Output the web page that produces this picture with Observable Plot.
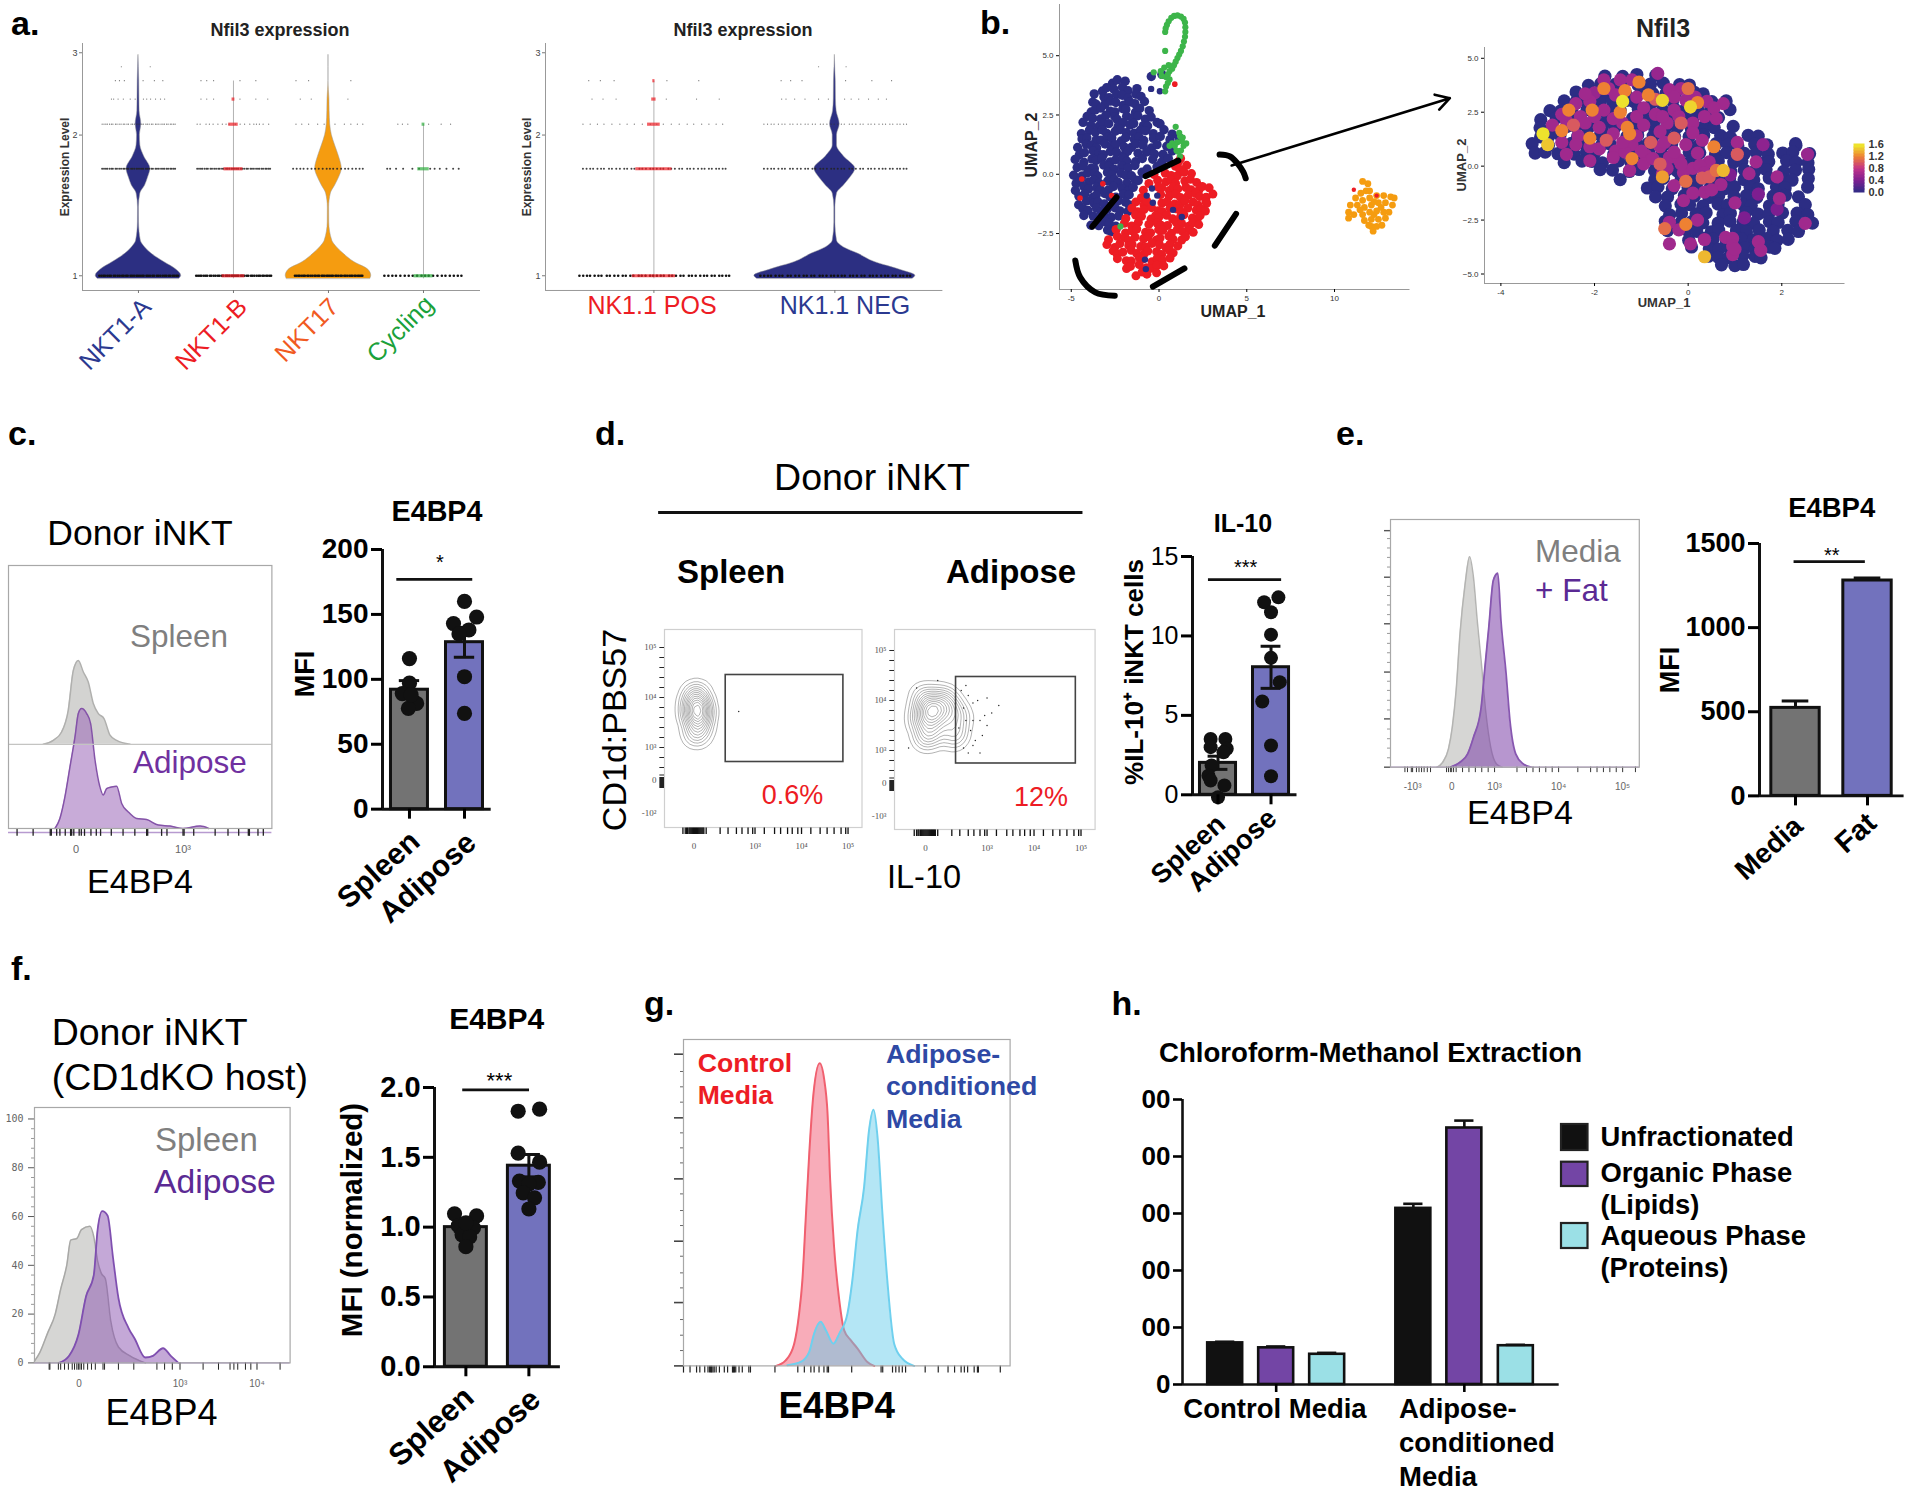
<!DOCTYPE html>
<html><head><meta charset="utf-8">
<script src="https://cdn.jsdelivr.net/npm/d3@7"></script>
<script src="https://cdn.jsdelivr.net/npm/@observablehq/plot@0.6"></script>
<style>html,body{margin:0;background:#fff}#fig{position:relative;width:1920px;height:1497px;overflow:hidden;font-family:"Liberation Sans",Arial,sans-serif}</style>
</head><body><div id="fig"></div>
<script>
// ---------- a. violins ----------
const violinLevels=[.985,1,1.03,1.07,1.114,1.15,1.188,1.3,1.4,1.5,1.56,1.62,1.694,1.8,1.9,2.0,2.11,2.25,2.39,2.61,2.8,2.97];
const nkt1aWidth=[.43,.45,.40,.27,.14,.07,.025,.006,.005,.02,.07,.10,.125,.06,.02,.015,.03,.012,.01,.008,.004,0];
const nkt17Width=[.44,.45,.42,.27,.16,.09,.04,.008,.007,.025,.07,.11,.14,.11,.07,.035,.018,.012,.01,0,0,0];
const nk11NegWidth=[.43,.445,.36,.22,.13,.05,.012,.003,.003,.012,.05,.085,.113,.05,.012,.012,.027,.01,.006,.005,.002,0];
const clusterNames=["NKT1-A","NKT1-B","NKT17","Cycling"];
const clusterColors=["#2b3990","#ed1c24","#f15a22","#1aa13a"];
const nk11Names=["NK1.1 POS","NK1.1 NEG"];
const jitterDense=[-.98,-.93,-.88,-.84,-.78,-.73,-.69,-.62,-.58,-.52,-.47,-.41,-.37,-.31,-.27,-.2,-.16,-.11,-.05,-.01,.04,.09,.13,.2,.24,.29,.35,.39,.46,.5,.55,.61,.66,.7,.76,.8,.86,.9,.95,.99];
const jitterSparse=[-.9,.62,-.55,.18,-.74,.95,-.3,.44,-.12,.8,-.98,.3,-.42,.7,.05,-.65,.55,-.2,.88,-.82,.12,.38,-.5,.75,-.05,.98,-.35,.24];
const rowsA1=[[0,1,.42,40],[0,1.694,.39,40],[0,2.11,.39,28],[0,2.388,.29,12],[0,2.614,.27,6],[0,2.8,.2,2],
 [1,1,.4,40],[1,1.694,.39,30],[1,2.11,.39,18],[1,2.388,.38,6],[1,2.614,.38,5],
 [2,1,.36,30],[2,1.694,.38,22],[2,2.11,.38,10],[2,2.388,.33,3],[2,2.614,.38,3],
 [3,1,.42,24],[3,1.694,.39,12],[3,2.11,.3,6]];
const rowsA2=[[0,1,.42,40],[0,1.694,.4,40],[0,2.11,.4,22],[0,2.388,.38,6],[0,2.614,.4,5],
 [1,1,.42,40],[1,1.694,.4,40],[1,2.11,.4,28],[1,2.388,.3,12],[1,2.614,.33,6],[1,2.8,.1,2]];
const coresA1=[[1,1,"#ed1c24",.12],[1,1.694,"#ed1c24",.1],[1,2.11,"#ed1c24",.05],[1,2.388,"#ed1c24",.015],[3,1,"#2fae3f",.1],[3,1.694,"#2fae3f",.06],[3,2.11,"#2fae3f",.015]];
const coresA2=[[0,1,"#ed1c24",.12],[0,1.694,"#ed1c24",.1],[0,2.11,"#ed1c24",.035],[0,2.388,"#ed1c24",.012],[0,2.614,"#ed1c24",.006]];
// ---------- b. UMAP (rows: y, then x positions) ----------
const wiggleX=[.07,-.11,.03,.12,-.05,-.09,.1,-.02,.06,-.13,.09,-.07,.13,.01,-.1,.05,-.04,.11,-.12,.08,-.01,-.08,.04];
const wiggleY=[-.09,.12,.04,-.13,.07,-.03,.1,-.11,.02,.13,-.06,-.1,.09,.05,-.12,.11,-.02,.06,-.07];
const blueRows=[[3.9,-2.7,-2.3,-1.95],[3.6,-3.3,-2.95,-2.5,-2.15,-1.75,-1.3],[3.3,-3.6,-3.2,-2.8,-2.5,-2.1,-1.7,-1.35,-1],[3,-3.85,-3.5,-3.15,-2.75,-2.4,-2.05,-1.7,-1.3,-.85],[2.7,-3.95,-3.6,-3.25,-2.85,-2.5,-2.1,-1.8,-1.4,-1.05,-.65],[2.4,-4.1,-3.7,-3.35,-3,-2.6,-2.3,-1.9,-1.5,-1.15,-.8,-.5],[2.1,-4.25,-3.9,-3.5,-3.15,-2.8,-2.4,-2.05,-1.7,-1.35,-.95,-.6,-.2,.05],[1.8,-4.35,-4,-3.6,-3.3,-2.9,-2.55,-2.2,-1.8,-1.45,-1.1,-.7,-.35,.2],[1.5,-4.35,-4.05,-3.65,-3.3,-2.95,-2.6,-2.2,-1.85,-1.5,-1.15,-.8,-.35,.1,.55],[1.2,-4.55,-4.2,-3.85,-3.5,-3.1,-2.75,-2.4,-2,-1.65,-1.3,-.85,-.5,-.1,.4,.75],[.9,-4.6,-4.2,-3.85,-3.45,-3.1,-2.8,-2.4,-2.05,-1.7,-1.25,-.7,-.2,.2,.7],[.6,-4.7,-4.3,-3.9,-3.55,-3.2,-2.85,-2.45,-2.1,-1.75,-1.4,-.9,-.45,.15,.6],[.3,-4.7,-4.3,-3.95,-3.6,-3.2,-2.85,-2.5,-2.15,-1.8,-1.3,-.7,-.2,.1],[0,-4.8,-4.45,-4.05,-3.7,-3.4,-3,-2.65,-2.25,-1.9,-1.5,-1,-.85],[-.3,-4.8,-4.4,-4.05,-3.7,-3.35,-2.95,-2.6,-2.25,-1.85,-1.45,-1.15],[-.6,-4.7,-4.35,-4,-3.6,-3.25,-2.95,-2.55,-2.2,-1.75,-1.4],[-.9,-4.6,-4.2,-3.85,-3.5,-3.15,-2.8,-2.4,-2.05,-1.75],[-1.2,-4.5,-4.15,-3.8,-3.45,-3.05,-2.7,-2.3,-1.95,-1.6],[-1.5,-4.4,-4,-3.65,-3.3,-2.9,-2.55,-2.2,-1.85],[-1.8,-4.2,-3.8,-3.45,-3.1,-2.75,-2.35],[-2.1,-3.8,-3.45,-3.1,-2.8,-2.4],[-2.4,-3,-2.7,-2.5],[4.2,-.35,.1],[1.6,.8,1.05]];
const blueStrays=[[-.4,-.6],[-.7,-.9],[-.1,-.9],[-.35,-1.2],[.8,-1.5],[1.3,-1.8],[-.8,-3.6],[-.75,-4],[-.45,3.6],[.05,3.5]];
const redRows=[[.6,1.1,1.3],[.3,.9,1.2,1.5],[0,-.2,.3,.7,1.1,1.4,1.8],[-.3,-.5,-.1,.3,.7,1,1.4,1.8,2.1],[-.6,-.8,-.1,.2,.5,.8,1.15,1.5,1.85,2.2,2.55,2.8],[-.9,-1,.15,.55,.9,1.3,1.65,2,2.35,2.75,3],[-1.2,-1.3,-.9,-.6,.1,.5,.8,1.2,1.55,1.9,2.25,2.6,2.8],[-1.5,-1.6,-1.2,-.8,-.45,-.1,.25,.6,.95,1.3,1.7,2.05,2.4,2.6],[-1.8,-1.8,-1.4,-.95,-.55,-.2,.05,.4,.8,1.15,1.5,1.85,2.2,2.4],[-2.1,-2,-1.6,-1.1,-.6,-.2,.15,.55,.9,1.3,1.65,2,2.2],[-2.4,-2.4,-2,-1.55,-1.2,-.8,-.45,-.1,.3,.65,1.05,1.4,1.75,1.9],[-2.7,-2.8,-2.4,-2.05,-1.7,-1.3,-.95,-.6,-.2,.15,.5,.85,1.2,1.5],[-3,-2.9,-2.55,-2.2,-1.8,-1.45,-1.1,-.75,-.35,0,.35,.7,1.05],[-3.3,-2.7,-2.35,-2,-1.65,-1.25,-.9,-.55,-.2,.2,.5,.8],[-3.6,-2.3,-1.9,-1.55,-1.2,-.85,-.45,-.1,.25,.6],[-3.9,-1.9,-1.55,-1.15,-.8,-.45,-.05,.2],[-4.2,-1.3,-1,-.6,-.2]];
const redStrays=[[-4.4,-.2],[-4.5,-1],[-3.2,-.4],[-2.7,-.9],[.9,3.8]];
const greenTail=[[.35,6],[.38,6.15],[.45,6.3],[.55,6.45],[.7,6.6],[.86,6.68],[1.05,6.7],[1.25,6.65],[1.4,6.55],[1.48,6.4],[1.5,6.2],[1.5,6],[1.48,5.8],[1.42,5.6],[1.35,5.4],[1.25,5.2],[1.15,5.05],[1.05,4.9],[.95,4.75],[.85,4.6],[.75,4.45],[.6,4.35],[.5,4.2],[.4,4.1],[.1,4.35],[-.3,4.3],[.6,4],[.4,3.7],[.35,3.5],[.3,4.5],[.5,3.85],[.35,5.2],[.55,4.6],[.15,4.15],[.95,2],[1.15,1.75],[1.3,1.4],[1.05,1.35],[.75,1.3],[.6,1.2],[1.4,1.2],[1.55,1.3],[1.25,1],[1,1],[1.2,.75],[1.2,1.6],[1.35,1.55],[.9,1.2],[1.1,.95],[-2.2,-2.2]];
const orangeBlob=[[11.6,-.3],[11.9,-.4],[11.8,-.7],[11.5,-.8],[11.2,-1],[11.6,-1.1],[12,-1],[12.4,-.9],[12.8,-.9],[13.2,-.95],[13.4,-1],[10.9,-1.3],[11.3,-1.3],[11.7,-1.4],[12.1,-1.3],[12.5,-1.2],[12.9,-1.2],[13.3,-1.3],[10.8,-1.6],[11.1,-1.7],[11.6,-1.7],[12,-1.6],[12.4,-1.55],[12.8,-1.6],[13.1,-1.6],[10.8,-1.85],[11.7,-1.95],[12.1,-1.9],[12.5,-1.9],[12.9,-1.85],[12.1,-2.2],[12.4,-2.2],[12.7,-2.15],[12.2,-2.4],[12,-.7],[12.25,-1.15],[11.45,-1.5],[12.65,-1.4],[12.25,-1.7],[11.95,-2.15]];
const orangeReds=[[11.1,-.65],[12.4,-.9]];
const nfilBase=[[4.2,-1.75,-1.45,-1.1,-.65],[3.8,-2.15,-1.85,-1.6,-1.35,-1.1,-.8,-.5,-.2,0],[3.4,-2.35,-2.1,-1.85,-1.6,-1.3,-1,-.75,-.5,-.2,.1,.35],[3,-2.7,-2.4,-2.15,-1.9,-1.6,-1.35,-1.1,-.8,-.55,-.3,0,.25,.55,.8],[2.6,-3,-2.7,-2.45,-2.2,-1.9,-1.65,-1.4,-1.1,-.85,-.6,-.3,-.05,.2,.5,.85],[2.2,-3.1,-2.85,-2.55,-2.3,-2,-1.75,-1.45,-1.2,-.9,-.65,-.4,-.15,.1,.45,.7],[1.8,-3.2,-2.9,-2.65,-2.4,-2.1,-1.85,-1.55,-1.3,-1,-.75,-.45,-.2,.05,.3,.6,.95],[1.4,-3.2,-2.95,-2.7,-2.4,-2.15,-1.9,-1.6,-1.35,-1.05,-.8,-.5,-.25,0,.35,.65,.95,1.25,1.5],[1,-3.3,-3,-2.7,-2.45,-2.2,-1.9,-1.65,-1.35,-1.1,-.85,-.55,-.3,-.05,.25,.55,.85,1.1,1.4,1.7,2.25,2.35],[.6,-3.3,-3.05,-2.75,-2.45,-2.2,-1.95,-1.6,-1.4,-1.1,-.8,-.6,-.3,0,.3,.55,.85,1.15,1.45,1.75,2,2.25,2.55],[.2,-2.6,-2.3,-2.05,-1.8,-1.5,-1.25,-.95,-.7,-.4,-.15,.1,.4,.65,.95,1.2,1.5,1.75,2.05,2.3,2.6],[-.2,-1.9,-1.6,-1.3,-1,-.75,-.45,-.2,.05,.35,.6,.9,1.15,1.45,1.7,2,2.3,2.55],[-.6,-1.4,-.75,-.5,-.2,.05,.35,.6,.9,1.15,1.45,1.7,2,2.25,2.55],[-1,-.9,-.6,-.35,-.05,.2,.5,.75,1,1.3,1.55,1.85,2.1,2.5],[-1.4,-.7,-.4,-.1,.15,.4,.7,.95,1.25,1.5,1.8,2.05,2.4],[-1.8,-.5,-.2,.05,.35,.6,.85,1.15,1.4,1.7,1.95,2.45],[-2.2,-.4,-.1,.15,.4,.7,.95,1.2,1.5,1.75,2,2.3,2.6],[-2.6,-.5,-.2,.1,.35,.6,.9,1.15,1.45,1.7,1.95,2.25,2.65],[-3,-.4,-.05,.2,.45,.7,1,1.25,1.55,1.8,2.1,2.4],[-3.4,0,.3,.55,.85,1.1,1.4,1.65,1.95,2.1],[-3.8,.1,.4,.65,.9,1.2,1.45,1.7,1.9],[-4.2,.4,.65,.9,1.15,1.4,1.6],[-4.6,.7,.95,1.2]];
const nfilPositive=[[-.65,4.3,.55],[-1.8,4,.6],[-1.45,4,.6],[-1.2,4,.6],[-2,3.4,.55],[-1.7,3.6,.6],[-1.05,3.9,1.2],[-1.35,3.5,1.2],[-1.8,3.6,1.2],[-.85,3.3,1.2],[-.7,3.1,1],[-.55,3.05,1.5],[-.15,3.6,.6],[0,3.6,1.1],[-.4,3.55,.6],[.15,3.2,.6],[.2,2.95,1.2],[.4,3,.6],[.75,2.9,.6],[.55,2.7,.6],[.05,2.75,1.5],[-1.4,3,1.55],[-1.8,2.6,.6],[-2.1,3,.6],[-2.4,2.9,.6],[-2.55,2.6,1.2],[-2.05,2.6,1.2],[-2.3,2.3,.6],[-1.45,2.5,1.2],[-1.1,2.3,.6],[-1.3,1.8,1.2],[-1.25,1.5,1.2],[-1.4,2,.6],[-.95,1.9,.6],[-.45,2,.6],[-.15,2,1],[.1,2,.6],[-.7,2.4,.6],[-.3,2.6,.6],[-3.1,1.5,1.55],[-3,1,1.45],[-2.7,1.65,1.2],[-2.6,2.1,.6],[-2.45,1.9,1],[-2.35,1.4,.6],[-2.1,1.3,1.2],[-1.75,1.2,1],[-2.7,1.1,.6],[-2.4,1,.6],[-1.9,.8,.6],[-1.55,.7,.6],[-1.2,1,.6],[-.8,1.1,1],[-.9,.5,.6],[-.6,.9,.6],[-.3,1.3,1],[-.05,1,.6],[.1,1.55,.6],[.55,.9,1.2],[-1.6,.4,.6],[-1.2,.35,1.2],[-.95,.1,.6],[-.6,.1,1],[-.55,-.5,1.3],[-.4,.4,.6],[-.2,.3,.6],[-.1,-.3,.6],[.1,-.1,.6],[.3,-.55,1],[.45,-.5,1],[.6,-.2,1.1],[.75,-.2,1.4],[.45,.2,.6],[.35,-1.2,.6],[.7,-.85,.6],[.1,-1.25,.6],[-.3,-.9,.6],[-.55,-.35,.6],[-.05,-.7,1.1],[1.3,-.35,.6],[1.9,-.5,.6],[1.95,-1.5,.6],[1,-1.7,.6],[1.45,.2,.6],[1.05,1.1,.6],[1.05,.55,1],[1.6,1,.5],[2.55,.55,.55],[2.5,-2.65,.6],[-.5,-2.9,1.1],[-.4,-2.6,.6],[-.05,-2.7,1.2],[-.4,-3.6,.6],[.05,-3.6,.6],[.35,-3.4,.6],[.35,-4.2,1.4],[.8,-3.3,.6],[.95,-3.35,.6],[.95,-3.7,.6],[.95,-4.1,.6],[1,-3.85,.6],[1.5,-3.5,.6],[1.55,-3.9,.6],[1.9,-2,.4],
[-2.7,2.4,.6],[-2.9,1.9,.6],[-2.2,2,.6],[-1.9,1.8,.6],[-1.6,1.5,.6],[-1.1,1.4,.6],[-.6,1.6,.6],[-.95,2.7,.6],[-1.6,2.2,.6],[-2,2.3,.6],[-1.1,3.2,.6],[-1.55,3.3,.6],[-.3,3.2,.6],[-.05,3.05,.6],[-2.2,3.35,.6],[-.55,2.3,.6],[-.2,2.3,.6],[.35,2.3,.6],[.6,2.2,.6],[-2.1,.9,.6],[-2.6,.55,.6],[-1.35,.65,.6],[-1,.7,.6],[-.3,.65,.6],[-.75,.35,.6],[-1.4,1.1,.6],[-.5,1.1,.6],[.3,1.2,.6],[-1.25,-.2,.6],[-.15,.1,.6],[.25,.05,.6],[.2,.6,.6],[-.45,-.1,.6],[-2.1,.25,.6],[.5,-1.1,.6],[.35,-.3,.6],[.2,-2.5,.6],[1.2,-2.4,.4],[1.5,-1.3,.4],[.9,-.4,.4],[-.2,-2.95,.6],[-.1,-1.6,.6]];
const nfilScale=[0,.1,.2,.3,.4,.5,.6,.7,.8,.9,1,1.1,1.2,1.3,1.4,1.5,1.6];
const arcs=[[[-.76,-.08],[1.1,.58]],[[3.45,.83],[4.05,.75],[4.49,.44],[4.8,.1],[4.94,-.17]],[[-3.8,-2.21],[-2.42,-.97]],[[4.39,-1.67],[3.18,-3.01]],[[1.45,-3.97],[-.35,-4.74]],[[-4.77,-3.64],[-4.49,-4.35],[-3.63,-4.98],[-2.52,-5.12]]];
const arrowEnds=[{x1:4.14,y1:.37,x2:16.57,y2:3.21}];
// ---------- c ----------
const cSpleenX=[-.305,-.212,-.134,-.072,-.025,.022,.069,.115,.162,.209,.262,.318,.38,.505];
const cSpleenY=[32,33.5,36.7,44.9,60,63.9,59.5,55.7,47.5,43.7,41.8,35.5,33.5,32];
const cAdiposeX=[-.196,-.15,-.103,-.056,-.009,.022,.053,.1,.137,.178,.224,.255,.287,.333,.38,.427,.489,.567,.66,.769,.879,1,1.16,1.24];
const cAdiposeY=[0,3.8,12,23.4,34.8,43.7,45.6,43.7,39.9,26,15.8,12.7,15.2,15.8,16.1,9.5,6.3,3.8,3.4,1.3,.9,0,.9,0];
const cRug=[-.55,-.4,-.24,-.23,-.18,-.15,-.1,-.05,-.04,-.02,.03,.05,.08,.14,.19,.23,.33,.44,.55,.66,.67,.8,.85,1,1.01,1.1,1.3,1.42,1.52,1.61,1.62,1.7,1.75];
const cBars=[{x:0,v:92,lo:86,hi:99,fill:"#737373"},{x:1,v:128.6,lo:117,hi:140,fill:"#7272bd"}];
const cDots=[[0,116],[0,97],[-.13,89],[.13,81.4],[-.02,77.6],[.03,88],[1,160],[1.22,148],[.8,143],[1.08,138],[.9,135],[1,102],[1,73.7]];
// ---------- d ----------
const dSpleenEvents=[[1.76,3.73],[1.7,3.9],[1.82,3.55],[1.62,3.6],[1.88,3.85],[1.6,3.95],[1.9,3.5],[1.76,4.05],[1.76,3.4],[1.65,3.3],[1.87,3.25],[1.58,3.75],[1.94,3.72],[1.72,3.2],[1.84,4.1],[1.66,4.12],[1.76,3.6],[1.76,3.85],[1.7,3.65],[1.82,3.78]];
const dAdiposeEvents=[[1.83,3.76],[1.7,3.9],[1.95,3.6],[1.65,3.55],[2,3.9],[1.55,3.85],[2.1,3.7],[1.8,4.1],[1.8,3.4],[1.62,3.25],[2,3.3],[1.5,3.6],[2.2,3.85],[1.75,3.2],[2.05,4.1],[1.6,4.15],[1.83,3.6],[1.83,3.9],[1.72,3.7],[1.93,3.8],[2.25,3.5],[2.3,3.2],[2.2,4.05],[2.35,3.8],[2.45,3.65],[2.4,3.35]];
const dAdiposeScatter=[[2.45,4.2],[2.5,3.85],[2.55,3.6],[2.6,4.1],[2.65,3.4],[2.7,3.95],[2.75,3.2],[2.8,4],[2.85,3.6],[2.5,3.05],[2.6,2.95],[2.9,3.3],[3,4.05],[3.1,3.75],[3.25,3.9],[2.4,3.45],[2.95,3.7],[2.7,3.1],[1.33,3.05],[1.5,4.25],[1.95,4.4],[2.55,4.3],[3,3.5],[2.85,2.95],[2.7,3.6]];
const dXRug=[1.45,1.5,1.53,1.55,1.58,1.6,1.62,1.64,1.66,1.68,1.7,1.72,1.74,1.76,1.78,1.8,1.82,1.84,1.86,1.88,1.9,1.95,2.25,2.42,2.6,2.72,2.85,2.95,3,3.2,3.42,3.55,3.7,3.8,3.92,4,4.2,4.4,4.55,4.7,4.85,4.95,5];
const dYRug=[5,4.8,4.6,4.4,4.2,4,3.8,3.6,3.4,3.2,3,2.8,2.6,2.45,2.4,2.38,2.36,2.34,2.32,2.3,2.28,2.26,2.24,2.22,2.2];
const dBars=[{x:0,v:2.01,lo:1.6,hi:2.43,fill:"#737373"},{x:1,v:8.03,lo:6.7,hi:9.35,fill:"#7272bd"}];
const dDots=[[-.139,3.52],[.139,3.52],[-.139,3],[.165,2.9],[.104,2.68],[-.121,1.84],[-.18,1.2],[-.139,.9],[.121,.59],[0,-.15],[1.139,12.43],[.87,12.12],[1,11.49],[1,10.08],[1,8.62],[1.165,7.09],[.835,5.87],[1,3.1],[1,1.17]];
// ---------- e ----------
const eMediaX=[2.1,2.19,2.28,2.34,2.4,2.46,2.54,2.61,2.67,2.73,2.79,2.86,2.94,3.03,3.12];
const eMediaY=[0,2,7.4,16.2,31,53.8,74,85,76.7,59,43,22.9,8,1.3,0];
const eFatX=[2.31,2.46,2.58,2.67,2.79,2.85,2.91,2.98,3.05,3.1,3.18,3.24,3.33,3.45,3.57];
const eFatY=[0,2,5.4,12,24,40.4,56.5,75.4,78.3,59,37.7,18.8,5.4,1.3,0];
const eRug=[1.6,1.64,1.7,1.72,1.78,1.82,1.86,1.9,1.95,2,2.25,2.28,2.31,2.33,2.36,2.4,2.5,2.6,2.7,2.8,2.9,3,3.35,3.5,3.6,3.7,3.8,3.9,4,4.3,4.5,4.6,4.7,4.8,4.9,5,5.2];
const eBars=[{x:0,v:523,lo:523,hi:564,fill:"#737373"},{x:1,v:1280,lo:1280,hi:1295,fill:"#7272bd"}];
// ---------- f ----------
const fSpleenX=[1.11,1.18,1.28,1.38,1.45,1.53,1.58,1.66,1.72,1.83,1.88,1.93,1.98,2.03,2.1,2.2,2.35,2.55];
const fSpleenY=[.7,4.3,12.2,20.1,30.2,40.2,50.3,51,54.6,56,51.7,41.7,36.6,34.5,17.2,6.5,2.9,0];
const fAdiposeX=[1.43,1.56,1.68,1.78,1.88,1.93,1.99,2.06,2.13,2.2,2.33,2.41,2.55,2.65,2.78,2.88,2.98];
const fAdiposeY=[0,2.9,11.5,27.3,36,54.6,62.2,60.3,43.1,26.6,14.4,10,2.2,2.9,6,2.9,0];
const fRug=[1.3,1.31,1.42,1.45,1.5,1.55,1.6,1.63,1.66,1.68,1.7,1.72,1.75,1.8,1.85,1.9,2,2.02,2.2,2.4,2.7,2.8,2.9,3,3.3,3.5,3.65,3.7,3.75,3.85,3.92,4,4.3];
const fBars=[{x:0,v:1,lo:.97,hi:1.03,fill:"#737373"},{x:1,v:1.44,lo:1.36,hi:1.52,fill:"#7272bd"}];
const fDots=[[-.18,1.095],[.17,1.08],[-.12,1.01],[.12,.995],[-.06,.945],[.06,.93],[0,.86],[0,1.03],[.83,1.83],[1.17,1.845],[.83,1.53],[1.17,1.465],[.85,1.33],[1.15,1.32],[1,1.31],[.91,1.245],[1.09,1.21],[1,1.13]];
// ---------- g ----------
const gControlX=[28.3,31.3,33.9,35.4,36.4,37.4,38.5,39.8,41.7,43.1,44.1,44.9,46.1,47.7,49.2,51.2,53.3,56.3,58.4];
const gControlY=[0,1.7,6.8,16,26.2,44.6,65,83.4,92.7,87.6,77.4,57,36.5,20.1,10.9,7.9,5.3,1.2,0];
const gAdiposeX=[31.8,35.9,38.5,40,42,43.6,45.9,47.7,50.2,51.7,53.3,55.3,56.8,58.2,59.4,60.9,62.4,64.5,67,70.6];
const gAdiposeY=[.2,1.2,4.3,9.9,13.5,10.9,6.8,9.9,16,26.2,41.5,54.8,72.1,78.5,70.2,46.7,26.2,6.8,2.2,0];
const gRug=[0,2,4,5,6.5,7.5,8,8.3,8.6,9,9.4,10,11,12.5,13.5,15,15.3,15.6,16,17,18,20,20.5,28,35,37,39,40,41.5,43,44,44.4,51.5,60.5,61,64,65,66,67,68,74,78,81,83,85,86,87,89,90,90.3,97];
const gMajor=[0,19.4,38.2,57.3,76,95.5];
const gMinor=[4.7,9.4,14.2,23.9,28.5,33.6,43,47.6,52.7,62.2,66.8,71.4,80.8,85.5,90.2];
// ---------- h ----------
const hCategories=["Control Media","Adipose-conditioned Media"];
const hFractions=["Unfractionated","Organic Phase (Lipids)","Aqueous Phase (Proteins)"];
const hColors=["#111111","#7345a5","#9be0e6"];
const hPositions=[0,1,2,3.69,4.69,5.7];
const hValues=[73,64.3,53,309,450,68];
const hUpper=[75,66.7,55.5,317,463,69.6];
const hTicks=[0,100,200,300,400,500];

// ---------- helpers ----------
const fig=document.getElementById("fig");
const FONT='"Liberation Sans",Arial,sans-serif';
function place(left,top,right,bottom,opts){
  const svg=Plot.plot({width:right-left,height:bottom-top,marginTop:0,marginRight:0,marginBottom:0,marginLeft:0,
    style:{position:"absolute",left:left+"px",top:top+"px",overflow:"visible",background:"transparent",fontFamily:FONT},...opts});
  fig.appendChild(svg);return svg;
}
const NS="http://www.w3.org/2000/svg";
const overlay=document.createElementNS(NS,"svg");
overlay.setAttribute("width",1920);overlay.setAttribute("height",1497);
overlay.style.cssText="position:absolute;left:0;top:0;pointer-events:none";
function note(text,x,y,size,o={}){
  const t=document.createElementNS(NS,"text");
  t.textContent=text;t.setAttribute("x",x);t.setAttribute("y",y);t.setAttribute("font-size",size);
  t.setAttribute("font-family",FONT);t.setAttribute("font-weight",o.weight||400);t.setAttribute("fill",o.color||"#000");
  t.setAttribute("text-anchor",o.anchor||"start");
  if(o.rotate)t.setAttribute("transform",`rotate(${o.rotate} ${x} ${y})`);
  overlay.appendChild(t);
}
const zip=(xs,ys)=>xs.map((x,i)=>({x,y:ys[i]}));
let wiggleIndex=0;
const expandRows=(rows,sx=1,sy=1)=>rows.flatMap(([y,...xs])=>xs.map(x=>{const i=wiggleIndex++;return [x+sx*wiggleX[i%23],y+sy*wiggleY[i%19]];}));
const labelMap=m=>d=>m.get(d)??"";

function violinPanel(left,right,xDomain,violins,rows,cores,rules,ticks){
  const rowDots=rows.flatMap(([c,l,s,n])=>(n>=20?jitterDense.filter((_,i)=>n>=40||i%Math.round(40/n)==0):jitterSparse.slice(0,n)).map(j=>({x:c+j*s,y:l})));
  place(left,43,right,290,{x:{domain:xDomain,axis:null},y:{type:"log",domain:[.93,3.14],axis:null},marks:[
    Plot.ruleX([xDomain[0]],{stroke:"#999",strokeWidth:1}),Plot.ruleY([.93],{stroke:"#999",strokeWidth:1}),
    Plot.axisY({ticks:[1,2,3],tickFormat:d=>String(d),tickSize:3,tickPadding:2,fontSize:9,label:null,stroke:"#777",fill:"#444"}),
    Plot.axisX({ticks:ticks,tickFormat:()=>"",tickSize:3,label:null,stroke:"#777"}),
    Plot.ruleX(rules,{x:d=>d[0],y1:.985,y2:d=>d[1],stroke:"#aaa",strokeWidth:.9}),
    ...violins.map(([c,w,fill])=>Plot.areaX(violinLevels.map((y,i)=>({y,a:c-w[i],b:c+w[i]})),{y:"y",x1:"a",x2:"b",fill,stroke:"#999",strokeWidth:.5,curve:"monotone-y"})),
    Plot.dot(rowDots.filter(d=>d.y>2),{x:"x",y:"y",r:.6,fill:"#333",fillOpacity:.7,stroke:"none"}),
    Plot.dot(rowDots.filter(d=>d.y<2&&d.y>1),{x:"x",y:"y",r:1,fill:"#222",fillOpacity:.85,stroke:"none"}),
    Plot.dot(rowDots.filter(d=>d.y==1),{x:"x",y:"y",r:1.3,fill:"#111",stroke:"none"}),
    Plot.ruleY(cores,{y:d=>d[1],x1:d=>d[0]-d[3],x2:d=>d[0]+d[3],stroke:d=>d[2],strokeWidth:3.2,strokeOpacity:.7})
  ]});
}
function histPanel(left,top,right,bottom,xDomain,yDomain,series,extra=[]){
  place(left,top,right,bottom,{x:{domain:xDomain,axis:null},y:{domain:yDomain,axis:null},marks:[
    ...series.flatMap(s=>[
      Plot.areaY(zip(s.x,s.y),{x:"x",y1:s.base||0,y2:"y",fill:s.fill,fillOpacity:s.opacity??1,curve:"monotone-x"}),
      Plot.line(zip(s.x,s.y),{x:"x",y:"y",stroke:s.stroke,strokeWidth:s.sw||1.5,curve:"monotone-x"})
    ]),
    ...extra,
    Plot.frame({stroke:"#a8a8a8",strokeWidth:1.2})
  ]});
}
function barPanel(c){
  const w=c.hw||.336, sw=c.sw||3;
  place(c.left,c.top,c.right,c.bottom,{x:{domain:c.xDomain,axis:null},y:{domain:c.yDomain,axis:null},marks:[
    Plot.rectY(c.bars,{x1:d=>d.x-w,x2:d=>d.x+w,y1:0,y2:"v",fill:"fill",stroke:"#111",strokeWidth:sw}),
    Plot.ruleX(c.bars,{x:"x",y1:"lo",y2:"hi",stroke:"#111",strokeWidth:sw}),
    Plot.ruleY(c.bars,{y:"hi",x1:d=>d.x-w*.55,x2:d=>d.x+w*.55,stroke:"#111",strokeWidth:sw}),
    Plot.ruleY(c.bars.filter(d=>d.lo<d.v),{y:"lo",x1:d=>d.x-w*.55,x2:d=>d.x+w*.55,stroke:"#111",strokeWidth:sw}),
    Plot.dot(c.dots||[],{x:d=>d[0],y:d=>d[1],r:c.r||7.6,fill:"#111",stroke:"none"}),
    Plot.ruleX([c.xDomain[0]],{stroke:"#111",strokeWidth:sw}),
    Plot.ruleY([c.yDomain[0]],{stroke:"#111",strokeWidth:sw}),
    Plot.axisY({ticks:c.ticks,tickFormat:c.format||(d=>String(d)),tickSize:c.tickSize||11,tickPadding:3,fontSize:c.font,fontWeight:c.weight||"bold",label:null,strokeWidth:sw}),
    Plot.axisX({ticks:c.xTicks||c.bars.map(d=>d.x),tickFormat:()=>"",tickSize:c.tickBelow||10,label:null,strokeWidth:sw}),
    ...(c.sig?[Plot.ruleY([c.sig.y],{x1:c.sig.x1,x2:c.sig.x2,stroke:"#111",strokeWidth:2.8})]:[])
  ]});
}

// ---------- a ----------
violinPanel(82,480,[-.589,3.6],[[0,nkt1aWidth,"#2c2f82"],[2,nkt17Width,"#f59c10"]],rowsA1,coresA1,[[1,2.61],[3,2.11]],[0,1,2,3]);
violinPanel(544.6,942,[-.599,1.597],[[1,nk11NegWidth,"#2c2f82"]],rowsA2,coresA2,[[0,2.61]],[0,1]);
[[121,340],[217,340],[312.5,336],[406,335]].forEach(([x,y],i)=>note(clusterNames[i],x,y,25,{anchor:"middle",rotate:-45,color:clusterColors[i]}));
note(nk11Names[0],652,314,25,{anchor:"middle",color:"#ed1c24"});
note(nk11Names[1],845,314,25,{anchor:"middle",color:"#2b3990"});
note("Nfil3 expression",280,36,18,{anchor:"middle",weight:700,color:"#222"});
note("Nfil3 expression",743,36,18,{anchor:"middle",weight:700,color:"#222"});
note("Expression Level",69,167,12,{anchor:"middle",weight:700,rotate:-90,color:"#333"});
note("Expression Level",531,167,12,{anchor:"middle",weight:700,rotate:-90,color:"#333"});

// ---------- b ----------
place(1058.5,4,1409,289,{x:{domain:[-5.67,14.3],axis:null},y:{domain:[-4.86,7.16],axis:null},marks:[
  Plot.ruleX([-5.67],{stroke:"#999"}),Plot.ruleY([-4.86],{stroke:"#999"}),
  Plot.axisX({ticks:[-5,0,5,10],tickFormat:d=>String(d),tickSize:3,tickPadding:3,fontSize:8,label:null,fill:"#333"}),
  Plot.axisY({ticks:[-2.5,0,2.5,5],tickFormat:d3.format(".1f"),tickSize:3,tickPadding:3,fontSize:8,label:null,fill:"#333"}),
  Plot.dot(expandRows(blueRows,.7,.7),{x:d=>d[0],y:d=>d[1],r:4.7,fill:"#2b2d83",stroke:"none"}),
  Plot.dot(expandRows(redRows,.7,.7),{x:d=>d[0],y:d=>d[1],r:4.5,fill:"#ed1c24",stroke:"none"}),
  Plot.dot(blueStrays,{x:d=>d[0],y:d=>d[1],r:3.2,fill:"#2b2d83",stroke:"none"}),
  Plot.dot(redStrays,{x:d=>d[0],y:d=>d[1],r:2.8,fill:"#ed1c24",stroke:"none"}),
  Plot.dot(greenTail,{x:d=>d[0],y:d=>d[1],r:3.1,fill:"#3db54a",stroke:"none"}),
  Plot.dot(orangeBlob,{x:d=>d[0],y:d=>d[1],r:3.4,fill:"#f59c10",stroke:"none"}),
  Plot.dot(orangeReds,{x:d=>d[0],y:d=>d[1],r:2.2,fill:"#ed1c24",stroke:"none"}),
  ...arcs.map(a=>Plot.line(a,{x:d=>d[0],y:d=>d[1],stroke:"#000",strokeWidth:6,curve:"catmull-rom"})),
  Plot.arrow(arrowEnds,{x1:"x1",y1:"y1",x2:"x2",y2:"y2",stroke:"#000",strokeWidth:2.6,headLength:9,bend:0})
]});
note("UMAP_2",1037,145,16,{anchor:"middle",weight:700,rotate:-90,color:"#222"});
note("UMAP_1",1233,317,16,{anchor:"middle",weight:700,color:"#222"});
const nfilColor={type:"linear",domain:[0,.4,.8,1.2,1.6],range:["#2c2d84","#7d1e90","#c2338a","#ee8133","#eef02c"]};
place(1484,47,1844.5,283,{x:{domain:[-4.35,3.35],axis:null},y:{domain:[-5.44,5.5],axis:null},color:nfilColor,marks:[
  Plot.ruleX([-4.35],{stroke:"#999"}),Plot.ruleY([-5.44],{stroke:"#999"}),
  Plot.axisX({ticks:[-4,-2,0,2],tickFormat:d=>String(d),tickSize:3,tickPadding:3,fontSize:8,label:null,fill:"#333"}),
  Plot.axisY({ticks:[-5,-2.5,0,2.5,5],tickFormat:d3.format(".1f"),tickSize:3,tickPadding:3,fontSize:8,label:null,fill:"#333"}),
  Plot.dot(expandRows(nfilBase,.4,.4),{x:d=>d[0],y:d=>d[1],r:6.6,fill:"#2c2d84",stroke:"none"}),
  Plot.dot(nfilPositive.slice().sort((a,b)=>a[2]-b[2]),{x:d=>d[0],y:d=>d[1],r:6.6,fill:d=>d[2],stroke:"none"})
]});
place(1854,144,1864,192,{x:{domain:[0,1],axis:null},y:{domain:[0,1.6],axis:null},color:nfilColor,marks:[
  Plot.rect(nfilScale.slice(0,-1),{x1:0,x2:1,y1:d=>d,y2:d=>d+.1,fill:d=>d+.05,stroke:d=>d+.05}),
  Plot.axisY({anchor:"right",ticks:[0,.4,.8,1.2,1.6],tickFormat:d3.format(".1f"),tickSize:0,tickPadding:4,fontSize:11,fontWeight:"bold",label:null,fill:"#333"})
]});
note("Nfil3",1663,37,25,{anchor:"middle",weight:700,color:"#222"});
note("UMAP_2",1466,165,13,{anchor:"middle",weight:700,rotate:-90,color:"#333"});
note("UMAP_1",1664,307,13,{anchor:"middle",weight:700,color:"#333"});

// ---------- c ----------
const rugAt=(list,y1,y2,stroke="#222",w=1.3)=>Plot.ruleX(list,{x:d=>d,y1,y2,stroke,strokeWidth:w});
histPanel(8.3,565,271.7,828,[-.63,1.83],[0,100],[
  {x:cSpleenX,y:cSpleenY,base:32,fill:"#d3d3d1",stroke:"#b0b0ae"},
  {x:cAdiposeX,y:cAdiposeY,fill:"#9a66b8",opacity:.55,stroke:"#8453a8"}],[
  Plot.ruleY([32],{stroke:"#c4c4c2",strokeWidth:1.4}),
  Plot.ruleY([-1.5],{stroke:"#b79ad0",strokeWidth:1.4}),
  rugAt(cRug,0,-3),
  Plot.axisX({ticks:[0,1],tickFormat:labelMap(new Map([[0,"0"],[1,"10³"]])),tickSize:0,tickPadding:17,fontSize:11,label:null,fill:"#666"})
]);
note("Donor iNKT",140,545,35.5,{anchor:"middle"});
note("Spleen",130,647,31.5,{color:"#7f7f7f"});
note("Adipose",133,773,31.5,{color:"#7030a0"});
note("E4BP4",140,893,34,{anchor:"middle"});
barPanel({left:382,right:490.7,top:549.3,bottom:809,xDomain:[-.49,1.485],yDomain:[0,200],bars:cBars,dots:cDots,ticks:[0,50,100,150,200],font:28,sig:{y:177,x1:-.23,x2:1.15}});
note("E4BP4",437,521,28.7,{anchor:"middle",weight:700});
note("*",440,569,20,{anchor:"middle",weight:400});
note("MFI",314,674,27,{anchor:"middle",weight:700,rotate:-90});
note("Spleen",385,877,30,{anchor:"middle",weight:700,rotate:-42});
note("Adipose",434,885,30,{anchor:"middle",weight:700,rotate:-42});

// ---------- d ----------
const flowXLabels=new Map([[1.69,"0"],[3,"10³"],[4,"10⁴"],[5,"10⁵"]]);
function flowPanel(left,right,top,bottom,xDomain,yDomain,events,scatter,gate,yLabels){
  place(left,top,right,bottom,{x:{domain:xDomain,axis:null},y:{domain:yDomain,axis:null},marks:[
    Plot.frame({stroke:"#cfcfcf",strokeWidth:1.2}),
    Plot.density(events,{x:d=>d[0],y:d=>d[1],stroke:"#929292",strokeWidth:.7,bandwidth:6,thresholds:14}),
    Plot.dot(scatter,{x:d=>d[0],y:d=>d[1],r:.7,fill:"#222",stroke:"none"}),
    Plot.rect([gate],{x1:d=>d[0],x2:d=>d[1],y1:d=>d[2],y2:d=>d[3],fill:"none",stroke:"#444",strokeWidth:1.6}),
    Plot.ruleX(dXRug,{x:d=>d,y1:yDomain[0]-.01,y2:yDomain[0]-.14,stroke:"#111",strokeWidth:1.3}),
    Plot.ruleY(dYRug,{y:d=>d,x1:xDomain[0],x2:xDomain[0]-.1,stroke:"#222",strokeWidth:1}),
    Plot.axisX({ticks:[...flowXLabels.keys()],tickFormat:labelMap(flowXLabels),tickSize:0,tickPadding:15,fontSize:9,label:null,fill:"#555",fontFamily:"Liberation Serif"}),
    Plot.axisY({ticks:[...yLabels.keys()],tickFormat:labelMap(yLabels),tickSize:0,tickPadding:8,fontSize:9,label:null,fill:"#555",fontFamily:"Liberation Serif"})
  ]});
}
flowPanel(663.5,861,629,827,[1.054,5.3],[1.4,5.36],dSpleenEvents,[[2.65,3.72]],[2.37,4.9,2.71,4.45],new Map([[5,"10⁵"],[4,"10⁴"],[3,"10³"],[2.34,"0"],[1.68,"-10²"]]));
flowPanel(894.4,1095,629,829,[1.03,5.3],[1.42,5.42],dAdiposeEvents,dAdiposeScatter,[2.34,4.89,2.74,4.47],new Map([[5,"10⁵"],[4,"10⁴"],[3,"10³"],[2.34,"0"],[1.68,"-10³"]]));
note("Donor iNKT",872,490,37.5,{anchor:"middle"});
place(658,500,1082.6,524,{x:{domain:[0,1],axis:null},y:{domain:[0,1],axis:null},marks:[Plot.ruleY([.5],{stroke:"#111",strokeWidth:2.8})]});
note("Spleen",677,583,33,{weight:700});
note("Adipose",946,583,33,{weight:700});
note("CD1d:PBS57",626,730,34,{anchor:"middle",rotate:-90});
note("IL-10",924,888,32.5,{anchor:"middle"});
note("0.6%",792.6,804,27,{anchor:"middle",color:"#ed1c24"});
note("12%",1041,806,27,{anchor:"middle",color:"#ed1c24"});
barPanel({left:1191.5,right:1296,top:556,bottom:794.3,xDomain:[-.481,1.49],yDomain:[0,15],bars:dBars,dots:dDots,ticks:[0,5,10,15],font:25,weight:"normal",r:7,hw:.34,sig:{y:13.54,x1:-.18,x2:1.2}});
note("IL-10",1243,532,25,{anchor:"middle",weight:700});
note("***",1245.6,574,20,{anchor:"middle"});
note("%IL-10⁺ iNKT cells",1143,672,26,{anchor:"middle",weight:700,rotate:-90});
note("Spleen",1194,856,27,{anchor:"middle",weight:700,rotate:-42});
note("Adipose",1238,857,27.5,{anchor:"middle",weight:700,rotate:-42});

// ---------- e ----------
histPanel(1390,519,1638.8,766.7,[1.375,5.26],[0,100],[
  {x:eMediaX,y:eMediaY,fill:"#d6d6d4",stroke:"#b4b4b2"},
  {x:eFatX,y:eFatY,fill:"#7c3fa8",opacity:.55,stroke:"#8757b0",sw:1.8}],[
  Plot.ruleY([0],{stroke:"#b79ad0",strokeWidth:1.2}),
  rugAt(eRug,0,-2.2,"#333",1),
  Plot.axisY({ticks:[0,19.5,38.4,57.9,76.7,95.5],tickFormat:()=>"",tickSize:6,label:null,stroke:"#555",strokeWidth:1.4}),
  Plot.axisY({ticks:[3.8,7.7,11.5,15.4,23.1,27,31,34.7,42.3,46.2,50,54,61.6,65.5,69.3,73,80.8,84.7,88.5,92.3],tickFormat:()=>"",tickSize:3,label:null,stroke:"#999"}),
  Plot.axisX({ticks:[1.72,2.33,3,4,5],tickFormat:labelMap(new Map([[1.72,"-10³"],[2.33,"0"],[3,"10³"],[4,"10⁴"],[5,"10⁵"]])),tickSize:0,tickPadding:16,fontSize:10,label:null,fill:"#666"})
]);
note("Media",1535,562,31.5,{color:"#7f7f7f"});
note("+ Fat",1535,601,31.5,{color:"#5b2a94"});
note("E4BP4",1520,824,34,{anchor:"middle"});
barPanel({left:1759,right:1903.6,top:543.3,bottom:795.7,xDomain:[-.5,1.508],yDomain:[0,1500],bars:eBars,ticks:[0,500,1000,1500],font:27,sig:{y:1392,x1:-.02,x2:.97}});
note("E4BP4",1831.7,517,27.5,{anchor:"middle",weight:700});
note("**",1831.7,562,20,{anchor:"middle"});
note("MFI",1679,670,27,{anchor:"middle",weight:700,rotate:-90});
note("Media",1775,855,28,{anchor:"middle",weight:700,rotate:-42});
note("Fat",1862,840,29,{anchor:"middle",weight:700,rotate:-42});

// ---------- f ----------
histPanel(34.4,1107,290,1362.4,[1.11,4.43],[0,104.7],[
  {x:fSpleenX,y:fSpleenY,fill:"#d6d6d4",stroke:"#a8a8a6"},
  {x:fAdiposeX,y:fAdiposeY,fill:"#8a52b0",opacity:.5,stroke:"#7f4fb0",sw:1.8}],[
  Plot.ruleY([0],{stroke:"#a990c8",strokeWidth:1.2}),
  rugAt(fRug,0,-3,"#222",1),
  Plot.axisY({ticks:[0,20,40,60,80,100],tickFormat:d=>String(d),tickSize:6,tickPadding:5,fontSize:10,label:null,fill:"#666",stroke:"#555",fontFamily:"DejaVu Sans Mono"}),
  Plot.axisY({ticks:[4,8,12,16,24,28,32,36,44,48,52,56,64,68,72,76,84,88,92,96],tickFormat:()=>"",tickSize:3,label:null,stroke:"#999"}),
  Plot.axisX({ticks:[1.69,3,4],tickFormat:labelMap(new Map([[1.69,"0"],[3,"10³"],[4,"10⁴"]])),tickSize:0,tickPadding:17,fontSize:10,label:null,fill:"#666"})
]);
note("Donor iNKT",51.7,1045,37.5);
note("(CD1dKO host)",51.7,1090,37.5);
note("Spleen",155,1151,33,{color:"#7f7f7f"});
note("Adipose",154,1193,33.7,{color:"#5b2a94"});
note("E4BP4",161.5,1424.5,36,{anchor:"middle"});
barPanel({left:433.6,right:559.5,top:1087,bottom:1366.3,xDomain:[-.498,1.5],yDomain:[0,2],bars:fBars,dots:fDots,ticks:[0,.5,1,1.5,2],format:d3.format(".1f"),font:29,hw:.333,sig:{y:1.983,x1:-.05,x2:1.01}});
note("E4BP4",496.7,1028.5,30,{anchor:"middle",weight:700});
note("***",499.4,1088,22,{anchor:"middle"});
note("MFI (normalized)",361.7,1220,29.5,{anchor:"middle",weight:700,rotate:-90});
note("Spleen",438,1434,31,{anchor:"middle",weight:700,rotate:-42});
note("Adipose",497,1443,31,{anchor:"middle",weight:700,rotate:-42});

// ---------- g ----------
histPanel(682.7,1039.3,1009.3,1365.7,[0,100],[0,100],[
  {x:gControlX,y:gControlY,fill:"#ee3a58",opacity:.42,stroke:"#f0606f",sw:2},
  {x:gAdiposeX,y:gAdiposeY,fill:"#63cbea",opacity:.48,stroke:"#6fd0ee",sw:2}],[
  rugAt(gRug,0,-2.2,"#222",1.2),
  Plot.axisY({ticks:gMajor,tickFormat:()=>"",tickSize:9,label:null,stroke:"#444",strokeWidth:1.6}),
  Plot.axisY({ticks:gMinor,tickFormat:()=>"",tickSize:3,label:null,stroke:"#666",strokeWidth:1})
]);
note("Control",697.7,1072,26.6,{weight:700,color:"#ed1c24"});
note("Media",697.7,1104,26.6,{weight:700,color:"#ed1c24"});
note("Adipose-",886,1063,26.7,{weight:700,color:"#2e49a5"});
note("conditioned",886,1095,26.7,{weight:700,color:"#2e49a5"});
note("Media",886,1128,26.7,{weight:700,color:"#2e49a5"});
note("E4BP4",836.7,1418,36.8,{anchor:"middle",weight:700});

// ---------- h ----------
const hBars=hPositions.map((x,i)=>({x,v:hValues[i],lo:hValues[i],hi:hUpper[i],fill:hColors[i%3]}));
barPanel({left:1182,right:1558.7,top:1099.3,bottom:1384.3,xDomain:[-.837,6.55],yDomain:[0,500],bars:hBars,xTicks:[1,4.69],ticks:hTicks,format:d=>d?"00":"0",font:26,hw:.343,sw:2.6,tickSize:9,tickBelow:8});
note("Chloroform-Methanol Extraction",1159,1062,27.6,{weight:700});
note(hCategories[0],1275,1418,27.5,{anchor:"middle",weight:700});
note("Adipose-",1399,1418,27.5,{weight:700});
note("conditioned",1399,1452,27.5,{weight:700});
note("Media",1399,1486,27.5,{weight:700});
place(1561,1124,1587.5,1248,{x:{domain:[0,1],axis:null},y:{domain:[1248,1124],axis:null},marks:[
  Plot.rect(hFractions,{x1:0,x2:1,y1:(d,i)=>[1124,1161.7,1223][i],y2:(d,i)=>[1150,1186,1248][i],fill:(d,i)=>hColors[i],stroke:"#222",strokeWidth:2.2})
]});
note("Unfractionated",1600.5,1146,27.4,{weight:700});
note("Organic Phase",1600.5,1182,27.4,{weight:700});
note("(Lipids)",1600.5,1214,27.4,{weight:700});
note("Aqueous Phase",1600.5,1245,27.4,{weight:700});
note("(Proteins)",1600.5,1277,27.4,{weight:700});

// ---------- panel letters ----------
[["a.",11,35],["b.",980,34],["c.",8,445],["d.",595,445],["e.",1336,445],["f.",11,980],["g.",644,1015],["h.",1111.5,1015]]
  .forEach(([t,x,y])=>note(t,x,y,34,{weight:700}));
fig.appendChild(overlay);
</script></body></html>
